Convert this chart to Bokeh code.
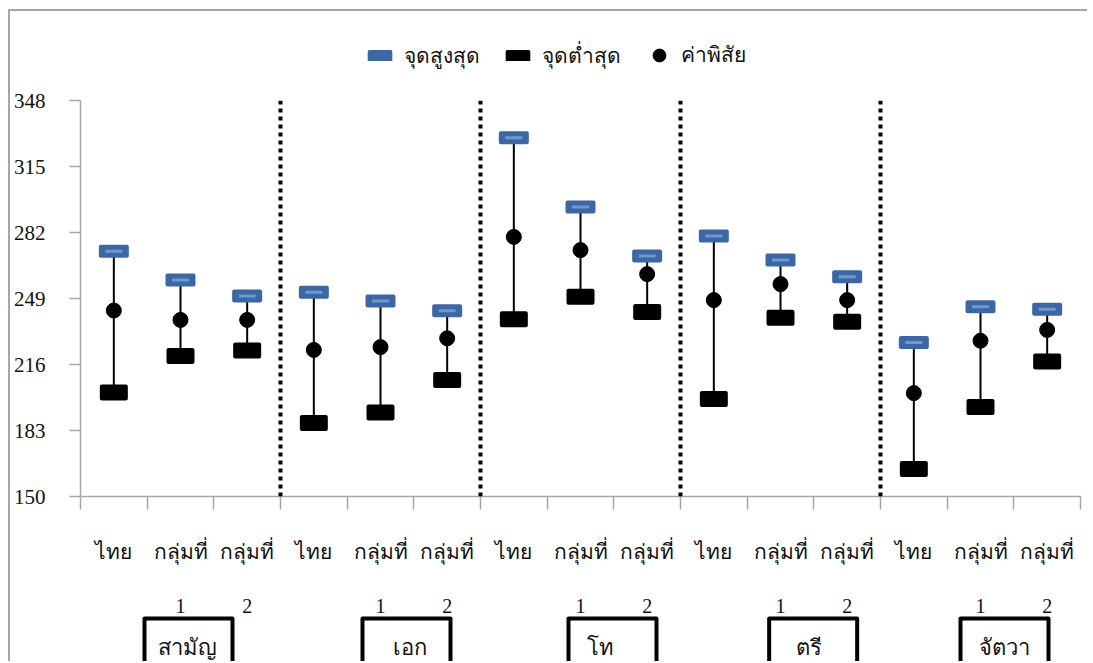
from bokeh.plotting import figure
from bokeh.models import (Range1d, FixedTicker, LinearAxis, Span, Legend, LegendItem,
                          ColumnDataSource)
from bokeh.core.properties import value
from bokeh.layouts import column
from bokeh.embed import file_html
from bokeh.resources import INLINE

# ---------------- data ----------------
groups = ["สามัญ", "เอก", "โท", "ตรี", "จัตวา"]
sub_top = ["ไทย", "กลุ่มที่", "กลุ่มที่"]
sub_num = ["", "1", "2"]
max_vals = [272.6, 258.2, 250.2, 252.1, 247.7, 242.9, 329.4, 294.8, 270.2,
            280.2, 268.2, 259.9, 227.0, 244.9, 243.6]
min_vals = [202.0, 220.3, 223.0, 186.7, 192.0, 208.3, 238.6, 249.9, 242.3,
            198.7, 239.4, 237.4, 163.8, 194.7, 217.5]
mode_vals = [243.0, 238.3, 238.3, 223.3, 224.7, 229.1, 279.8, 273.2, 261.2,
             248.2, 256.2, 248.2, 201.7, 227.9, 233.3]
y_ticks = [150, 183, 216, 249, 282, 315, 348]
legend_labels = ["จุดสูงสุด", "จุดต่ำสุด", "ค่าพิสัย"]

# ---------------- layout / style ----------------
THAI = "Noto Sans"
SERIF = "Liberation Serif"
GRID = "#a6a6a6"
INK = "#111111"
MAX_FILL = "#3d67a3"
MAX_STRIPE = "#6f98d2"
W = 1077
ML, MR = 70, 7
n_sub = len(sub_top)
n = len(groups) * n_sub
xs = [i + 0.5 for i in range(n)]
box_offsets = [1.62, 1.89, 1.98, 1.99, 1.86]
text_offsets = [1.61, 1.94, 1.80, 1.92, 1.86]

xr = Range1d(0, n)


def bare(h, top=0, bottom=0):
    f = figure(width=W, height=h, output_backend="svg", toolbar_location=None,
               x_range=xr, y_range=Range1d(0, 1), min_border_left=ML, min_border_right=MR,
               min_border_top=top, min_border_bottom=bottom, x_axis_type=None, y_axis_type=None)
    f.outline_line_color = None
    f.xgrid.visible = False
    f.ygrid.visible = False
    return f


def style_legend(lg):
    lg.background_fill_alpha = 0
    lg.border_line_color = None
    lg.padding = 0
    lg.margin = 0
    lg.label_text_font = THAI
    lg.label_text_font_size = "21px"
    lg.label_text_color = INK


# ---- legend strip (legend swatches use one off-screen sample point) ----
t = bare(79)
src0 = ColumnDataSource(dict(x=[-50], y=[-50]))
l_max = t.rect(x="x", y="y", width=24, height=7, width_units="screen", height_units="screen",
               source=src0, fill_color=MAX_FILL, line_color=MAX_FILL, line_width=3,
               line_join="round")
l_min = t.rect(x="x", y="y", width=24, height=8, width_units="screen", height_units="screen",
               source=src0, fill_color="black", line_color="black", line_width=3,
               line_join="round")
l_mode = t.scatter(x="x", y="y", source=src0, size=12, marker="circle",
                   fill_color="black", line_color="black")
legend1 = Legend(items=[LegendItem(label=legend_labels[0], renderers=[l_max]),
                        LegendItem(label=legend_labels[1], renderers=[l_min])],
                 orientation="horizontal", location=(286, 18))
style_legend(legend1)
legend1.spacing = 24
legend1.label_standoff = 11
legend1.glyph_width = 27
legend1.glyph_height = 11
legend1.label_height = 22
t.add_layout(legend1, "center")

legend2 = Legend(items=[LegendItem(label=legend_labels[2], renderers=[l_mode])],
                 orientation="horizontal", location=(563, 19))
style_legend(legend2)
legend2.label_standoff = 6
legend2.glyph_width = 32
legend2.glyph_height = 32
legend2.label_height = 32
t.add_layout(legend2, "center")

# ---- main chart ----
p = figure(width=W, height=525, output_backend="svg", toolbar_location=None,
           x_range=xr, y_range=Range1d(y_ticks[0], y_ticks[-1]),
           min_border_left=ML, min_border_right=MR, min_border_top=10,
           min_border_bottom=118, x_axis_type=None, y_axis_type=None)
p.outline_line_color = None

yax = LinearAxis(ticker=FixedTicker(ticks=y_ticks))
yax.axis_line_color = GRID
yax.axis_line_width = 1.5
yax.major_tick_line_color = GRID
yax.major_tick_line_width = 1.5
yax.major_tick_out = 11
yax.major_tick_in = 0
yax.minor_tick_line_color = None
yax.major_label_text_font = SERIF
yax.major_label_text_font_size = "21px"
yax.major_label_text_color = INK
yax.major_label_standoff = 24
p.add_layout(yax, "left")

top_labels = {x: sub_top[i % n_sub] for i, x in enumerate(xs)}
num_labels = {x: sub_num[i % n_sub] for i, x in enumerate(xs)}
xax = LinearAxis(ticker=FixedTicker(ticks=xs, minor_ticks=list(range(n + 1))))
xax.major_label_overrides = top_labels
xax.axis_line_color = GRID
xax.axis_line_width = 1.5
xax.major_tick_line_color = None
xax.major_tick_out = 0
xax.major_tick_in = 0
xax.minor_tick_line_color = GRID
xax.minor_tick_line_width = 1.5
xax.minor_tick_out = 13
xax.minor_tick_in = 0
xax.major_label_text_font = THAI
xax.major_label_text_font_size = "21px"
xax.major_label_text_color = INK
xax.major_label_standoff = 27
p.add_layout(xax, "below")

xax2 = LinearAxis(ticker=FixedTicker(ticks=xs, minor_ticks=[]))
xax2.major_label_overrides = num_labels
xax2.axis_line_color = None
xax2.major_tick_line_color = None
xax2.major_tick_out = 0
xax2.major_tick_in = 0
xax2.minor_tick_line_color = None
xax2.major_label_text_font = SERIF
xax2.major_label_text_font_size = "20px"
xax2.major_label_text_color = INK
xax2.major_label_standoff = 31
p.add_layout(xax2, "below")

p.ygrid.ticker = FixedTicker(ticks=y_ticks)
p.ygrid.grid_line_color = GRID
p.ygrid.grid_line_width = 1.5
p.xgrid.visible = False

for g in range(1, len(groups)):
    p.add_layout(Span(location=g * n_sub, dimension="height", line_color="black",
                      line_width=4, line_dash="4 4"))

src = ColumnDataSource(dict(x=xs, mx=max_vals, mn=min_vals, md=mode_vals))
p.segment(x0="x", y0="mn", x1="x", y1="mx", source=src, line_color="black", line_width=2)
p.rect(x="x", y="mn", width=24, height=12, width_units="screen", height_units="screen",
       source=src, fill_color="black", line_color="black", line_width=4, line_join="round")
p.rect(x="x", y="mx", width=26, height=9, width_units="screen", height_units="screen",
       source=src, fill_color=MAX_FILL, line_color=MAX_FILL, line_width=4, line_join="round")
p.rect(x="x", y="mx", width=17, height=3, width_units="screen", height_units="screen",
       source=src, fill_color=MAX_STRIPE, line_color=None)
p.scatter(x="x", y="md", source=src, size=15, marker="circle",
          fill_color="black", line_color="black")

# ---- group name boxes ----
q = bare(46)
bsrc = ColumnDataSource(dict(
    bx=[g * n_sub + box_offsets[g] for g in range(len(groups))],
    tx=[g * n_sub + text_offsets[g] for g in range(len(groups))],
    name=groups))
q.rect(x="bx", y=0.28, width=88, height=60, width_units="screen", height_units="screen",
       source=bsrc, fill_color=None, line_color="black", line_width=4, line_join="round")
q.text(x="tx", y=0.33, text="name", source=bsrc, text_align="center", text_baseline="middle",
       text_font=value(THAI), text_font_size="22px", text_color=INK)

layout = column(t, p, q, spacing=0)
layout.margin = (9, 0, 0, 8)
layout.styles = {"border-left": "2px solid #a6a6a6", "border-top": "2px solid #a6a6a6"}

open("out.html", "w").write(file_html(layout, INLINE))
